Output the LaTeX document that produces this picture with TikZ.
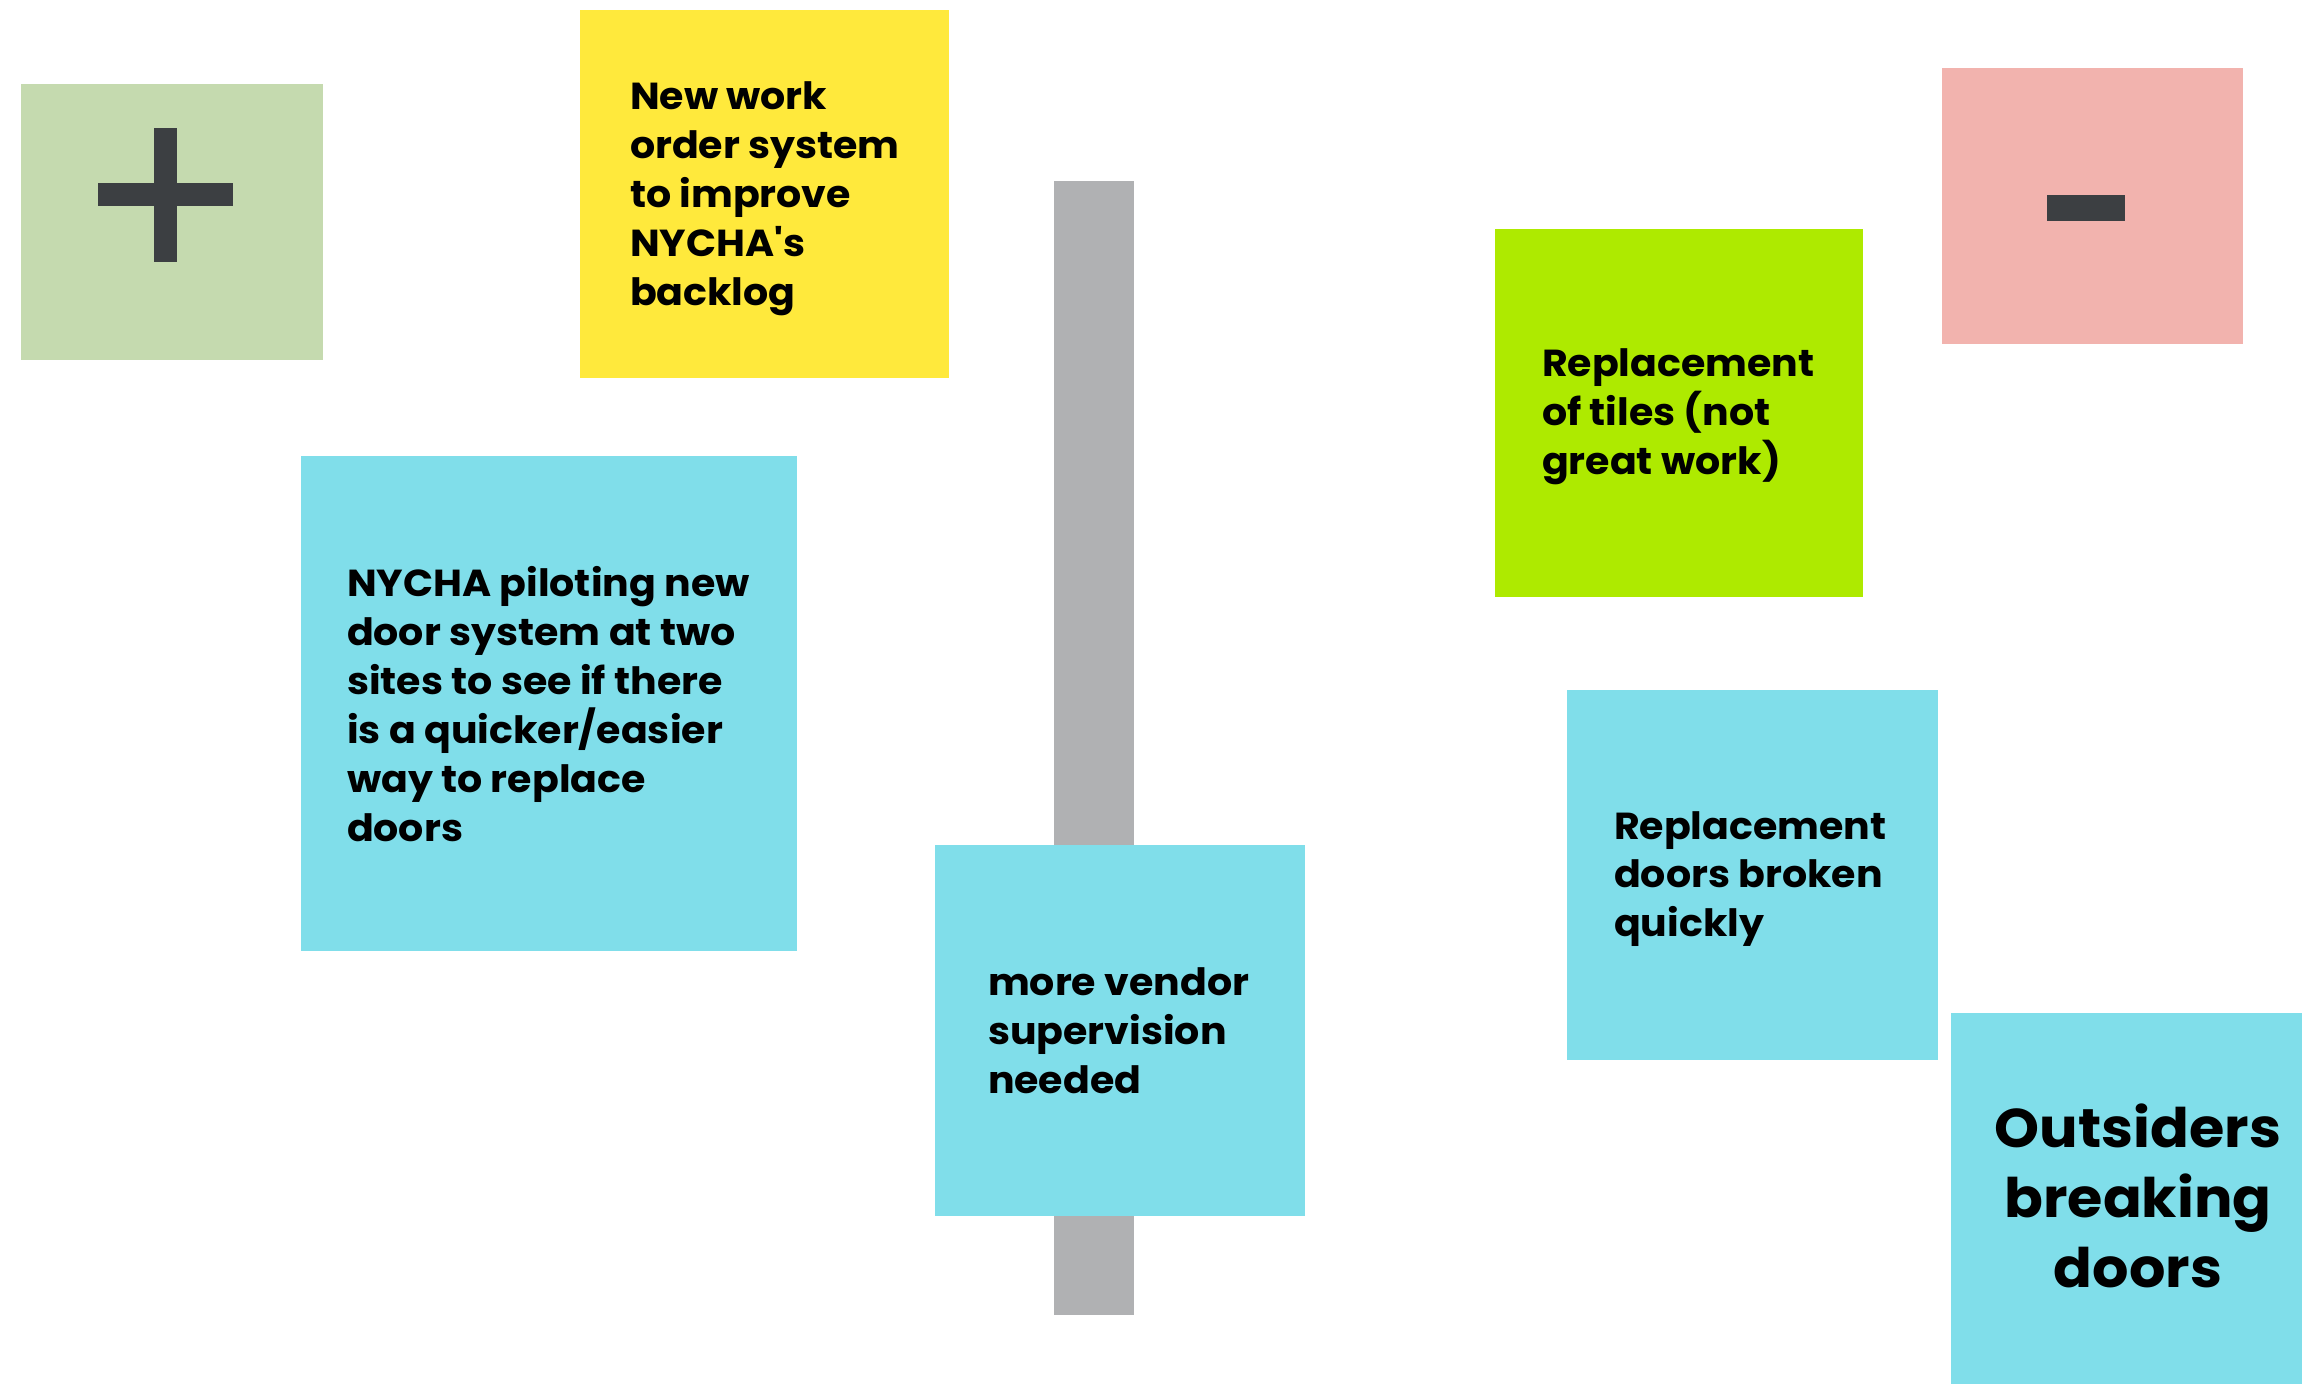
\documentclass[tikz,border=0pt]{standalone}
\usepackage{fontspec}
\setmainfont{Poppins}[Ligatures=TeXOff, BoldFont={* Bold}, BoldFeatures={FakeStretch=1.05}]
\definecolor{sgreen}{RGB}{197,218,175}
\definecolor{syellow}{RGB}{255,233,60}
\definecolor{scyan}{RGB}{128,222,234}
\definecolor{slime}{RGB}{174,234,0}
\definecolor{spink}{RGB}{242,179,174}
\definecolor{sgray}{RGB}{176,177,179}
\definecolor{sdark}{RGB}{60,63,66}
\tikzset{
  sticky/.style={draw=none, inner sep=0pt, outer sep=0pt, anchor=north west},
  stxt/.style={inner sep=0pt, outer sep=0pt, anchor=west, align=left, font=\fontsize{10.7pt}{13.9pt}\selectfont\bfseries, text=black},
  bigtxt/.style={inner sep=0pt, outer sep=0pt, anchor=center, align=center, font=\fontsize{15.5pt}{19.9pt}\selectfont\bfseries, text=black},
  sign/.style={fill=sdark, draw=none, inner sep=0pt, outer sep=0pt}
}
\begin{document}
\begin{tikzpicture}[x=0.01cm, y=-0.01cm]
\useasboundingbox (0,0) rectangle (2302,1384);
% plus sticky
\node[sticky, fill=sgreen, minimum width=3.02cm, minimum height=2.76cm] (plusbox) at (21,84) {};
\node[sign, minimum width=0.23cm, minimum height=1.34cm] (plusv) at (165.5,195) {};
\node[sign, minimum width=1.35cm, minimum height=0.23cm] (plush) at (165.5,194.5) {};
% minus sticky
\node[sticky, fill=spink, minimum width=3.01cm, minimum height=2.76cm] (minusbox) at (1942,68) {};
\node[sign, minimum width=0.78cm, minimum height=0.26cm] (minus) at (2086,208) {};
% yellow
\node[sticky, fill=syellow, minimum width=3.69cm, minimum height=3.68cm] (yellow) at (580,10) {};
\node[stxt] (yellowt) at (630,199) {New work\\order system\\to improve\\NYCHA's\\backlog};
% gray bar
\node[sticky, fill=sgray, minimum width=0.80cm, minimum height=11.33cm] (bar) at (1054,181) {};
% NYCHA piloting
\node[sticky, fill=scyan, minimum width=4.96cm, minimum height=4.95cm] (pilot) at (301,456) {};
\node[stxt] (pilott) at (347,704) {NYCHA piloting new\\door system at two\\sites to see if there\\is a quicker/easier\\way to replace\\doors};
% more vendor
\node[sticky, fill=scyan, minimum width=3.70cm, minimum height=3.71cm] (vendor) at (935,845) {};
\node[stxt] (vendort) at (988,1031) {more vendor\\supervision\\needed};
% lime
\node[sticky, fill=slime, minimum width=3.68cm, minimum height=3.68cm] (tiles) at (1495,229) {};
\node[stxt] (tilest) at (1542,417) {Replacement\\of tiles (not\\great work)};
% replacement doors
\node[sticky, fill=scyan, minimum width=3.71cm, minimum height=3.70cm] (doors) at (1567,690) {};
\node[stxt] (doorst) at (1614,879) {Replacement\\doors broken\\quickly};
% outsiders
\node[sticky, fill=scyan, minimum width=3.51cm, minimum height=3.71cm] (outs) at (1951,1013) {};
\node[bigtxt] (outst) at (2138,1196) {Outsiders\\breaking\\doors};
\end{tikzpicture}
\end{document}
